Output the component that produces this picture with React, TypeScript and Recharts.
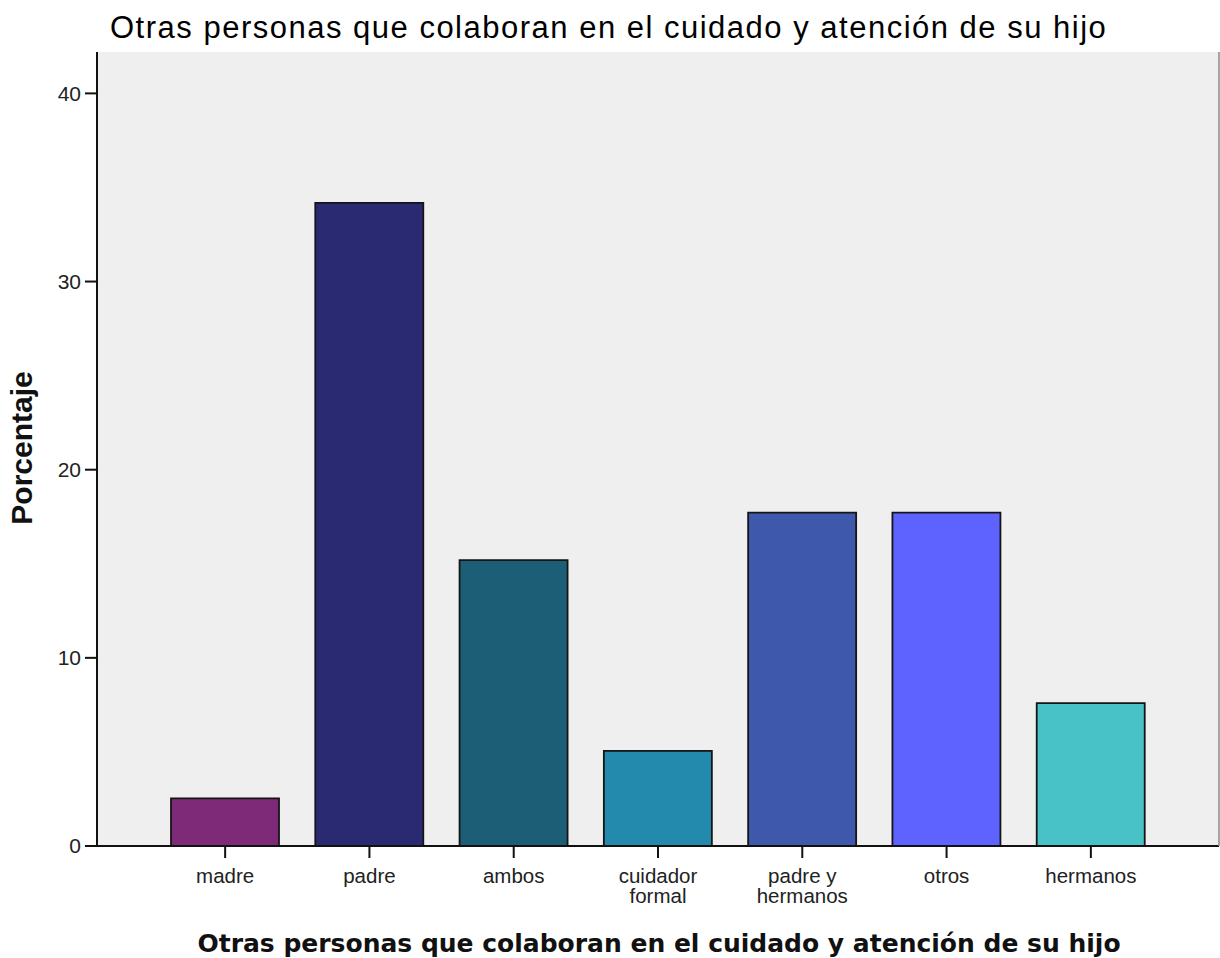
import { Bar, BarChart, CartesianGrid, Cell, XAxis, YAxis } from "recharts"

const categories = [
  "madre",
  "padre",
  "ambos",
  "cuidador\nformal",
  "padre y\nhermanos",
  "otros",
  "hermanos",
]
const percentages = [2.53, 34.18, 15.19, 5.06, 17.72, 17.72, 7.59]
const barColors = ["#7e2a79", "#2a2a72", "#1c5e76", "#238aad", "#3e58ab", "#5e62fe", "#48c2c6"]
const yTicks = [0, 10, 20, 30, 40]

const chartTitle = "Otras personas que colaboran en el cuidado y atención de su hijo"
const yTitle = "Porcentaje"

const data = categories.map((name, i) => ({ name, value: percentages[i] }))

const sans = "'Liberation Sans', Arial, sans-serif"

function CategoryTick({ x, y, payload }: any) {
  const lines = String(payload.value).split("\n")
  return (
    <g transform={`translate(${x},${y})`}>
      <text textAnchor="middle" fill="#222" fontSize={20.5} fontFamily={sans}>
        {lines.map((line, i) => (
          <tspan key={i} x={0} y={23 + i * 20}>
            {line}
          </tspan>
        ))}
      </text>
    </g>
  )
}

export default function App() {
  return (
    <div style={{ position: "relative", width: 1220, height: 958, background: "#fff" }}>
      <style>{"body{margin:0}"}</style>
      <BarChart
        width={1220}
        height={958}
        data={data}
        margin={{ top: 52, right: 0, bottom: 0, left: 0 }}
        barCategoryGap={18}
      >
        <CartesianGrid fill="#efefef" horizontal={false} vertical={false} />
        <XAxis
          dataKey="name"
          height={112}
          padding={{ left: 56, right: 56 }}
          interval={0}
          tick={<CategoryTick />}
          tickSize={12}
          tickMargin={2}
          axisLine={{ stroke: "#111", strokeWidth: 2 }}
          tickLine={{ stroke: "#111", strokeWidth: 2 }}
        />
        <XAxis
          xAxisId="top"
          dataKey="name"
          orientation="top"
          height={0}
          tick={false}
          tickLine={false}
          axisLine={{ stroke: "#777", strokeWidth: 2 }}
        />
        <YAxis
          width={97}
          domain={[0, 42.2]}
          ticks={yTicks}
          interval={0}
          tickSize={12}
          tickMargin={4}
          tick={{ fontSize: 21, fill: "#222", fontFamily: sans }}
          axisLine={{ stroke: "#111", strokeWidth: 2 }}
          tickLine={{ stroke: "#111", strokeWidth: 2 }}
        />
        <YAxis
          yAxisId="r"
          orientation="right"
          width={1}
          tick={false}
          tickLine={false}
          axisLine={{ stroke: "#888", strokeWidth: 1.5 }}
        />
        <Bar dataKey="value" stroke="#151515" strokeWidth={1.8} isAnimationActive={false}>
          {data.map((d, i) => (
            <Cell key={d.name} fill={barColors[i]} />
          ))}
        </Bar>
      </BarChart>
      <svg
        width={1220}
        height={958}
        style={{ position: "absolute", left: 0, top: 0, pointerEvents: "none" }}
      >
        <text x={110} y={38} fontSize={31} letterSpacing={1.5} fontFamily={sans} fill="#000">
          {chartTitle}
        </text>
        <text
          transform="translate(32,448) rotate(-90)"
          textAnchor="middle"
          fontSize={30}
          fontWeight="bold"
          fontFamily={sans}
          fill="#111"
        >
          {yTitle}
        </text>
        <text
          x={659}
          y={952}
          textAnchor="middle"
          fontSize={25}
          fontWeight="bold"
          fontFamily="'DejaVu Sans', Verdana, sans-serif"
          fill="#111"
        >
          {chartTitle}
        </text>
      </svg>
    </div>
  )
}
